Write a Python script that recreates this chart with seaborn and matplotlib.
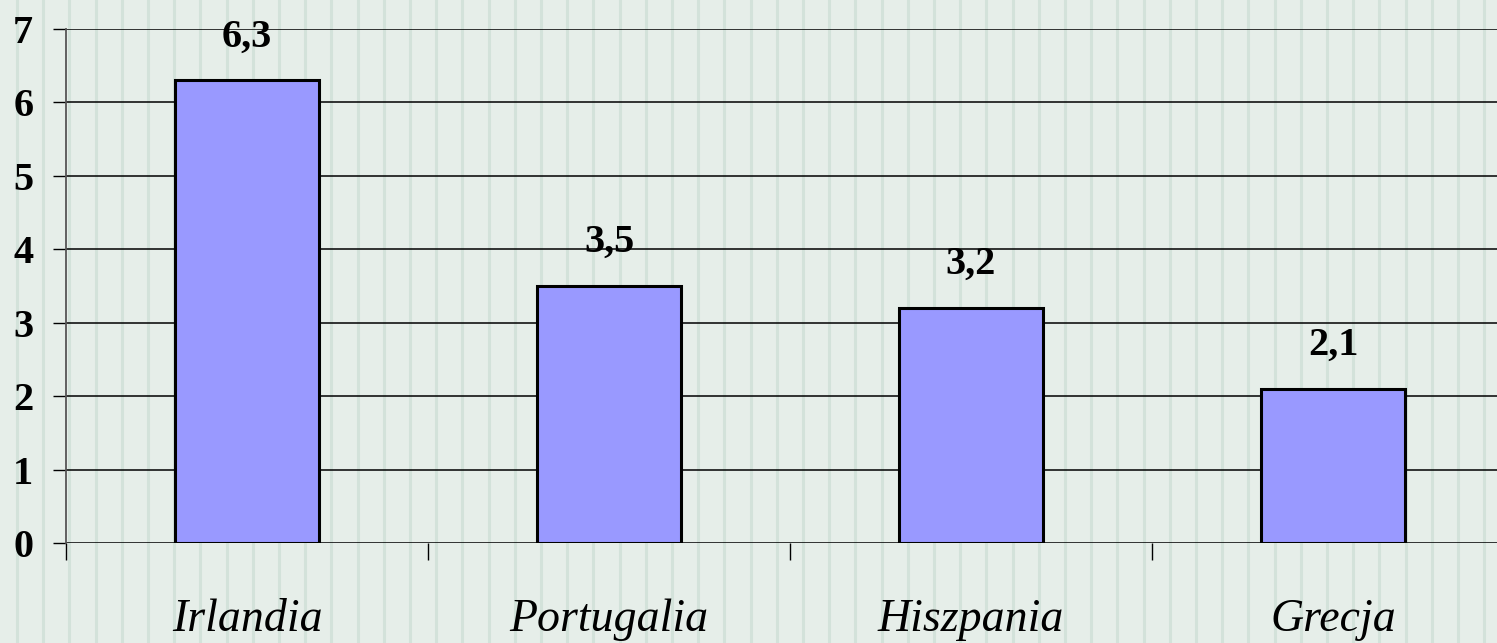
import numpy as np
import pandas as pd
import seaborn as sns
import matplotlib.pyplot as plt

# data
countries = ["Irlandia", "Portugalia", "Hiszpania", "Grecja"]
values = [6.3, 3.5, 3.2, 2.1]
value_labels = ["6,3", "3,5", "3,2", "2,1"]
y_ticks = [0, 1, 2, 3, 4, 5, 6, 7]

df = pd.DataFrame({"country": countries, "value": values})

sns.set_theme(style="white")
plt.rcParams["font.family"] = ["Liberation Serif", "DejaVu Serif"]
plt.rcParams["text.color"] = "black"
plt.rcParams["xtick.color"] = "black"
plt.rcParams["ytick.color"] = "black"

bg = "#e6eee9"
fig = plt.figure(figsize=(14.97, 6.43), dpi=100, facecolor=bg)

# striped background
bg_ax = fig.add_axes([0, 0, 1, 1], zorder=-1)
bg_ax.set_xlim(0, 1497)
bg_ax.set_ylim(0, 643)
for xs in np.arange(17, 1497, 26.2):
    bg_ax.axvline(xs, color="#d3e2da", lw=2.2)
bg_ax.set_facecolor(bg)
bg_ax.axis("off")

# axes: left spine at x=66, categories 362px wide (runs past right edge)
ax = fig.add_axes([66 / 1497, 100 / 643, 1448 / 1497, 514 / 643])
ax.patch.set_alpha(0)

sns.barplot(data=df, x="country", y="value", color="#9999ff", width=0.40,
            edgecolor="black", linewidth=2.2, saturation=1, ax=ax, zorder=3)

ax.set_xlim(-0.5, 3.5)
ax.set_ylim(0, 7)
ax.set_yticks(y_ticks)
ax.set_yticklabels([str(t) for t in y_ticks], fontsize=29, fontweight="bold")
for t in y_ticks:
    ax.axhline(t, color="black", lw=1.1, zorder=1)

# category boundary ticks + centred labels
ax.set_xticks(np.arange(-0.5, 4, 1))
ax.set_xticklabels([])
ax.set_xticks(range(len(countries)), minor=True)
ax.set_xticklabels(countries, minor=True, fontsize=33, fontstyle="italic")
ax.tick_params(axis="x", which="major", bottom=True, direction="out",
               length=12, width=1, color="black")
ax.tick_params(axis="x", which="minor", bottom=True, length=0, pad=40)
ax.tick_params(axis="y", left=True, direction="out", length=9.5, width=1,
               color="black", pad=14)

for s in ["top", "right", "bottom"]:
    ax.spines[s].set_visible(False)
ax.spines["left"].set_color("#555555")
ax.spines["left"].set_linewidth(1.3)
ax.set_xlabel("")
ax.set_ylabel("")

for i, (v, lab) in enumerate(zip(values, value_labels)):
    ax.annotate(lab, (i, v), xytext=(0, 18), textcoords="offset points",
                ha="center", va="bottom", fontsize=29, fontweight="bold")

fig.savefig("out.png", dpi=100, facecolor=bg)
